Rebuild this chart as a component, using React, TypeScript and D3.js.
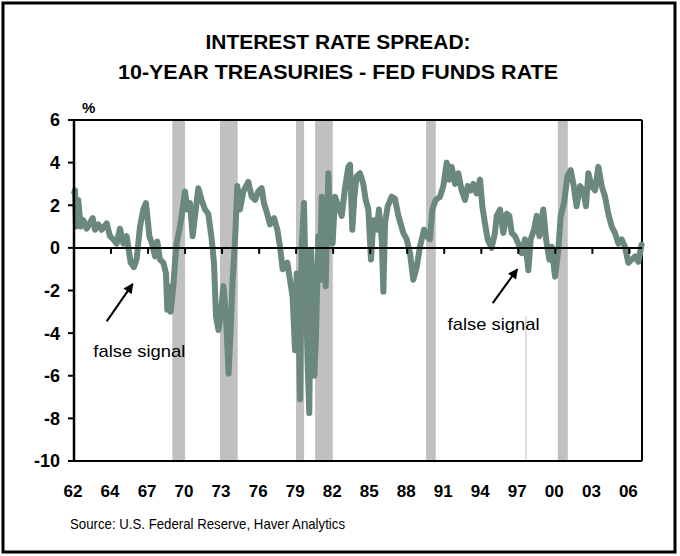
import React from "react";
import * as d3 from "d3";

// weekly spread, years as decimals
const spreadYears = [
  1962.02, 1962.08, 1962.16, 1962.34, 1962.53, 1962.74, 1963.0, 1963.48, 1963.66, 1963.93,
  1964.19, 1964.59, 1964.85, 1965.12, 1965.38, 1965.64, 1965.91, 1966.17, 1966.49, 1966.75,
  1966.97, 1967.23, 1967.49, 1967.7, 1967.81, 1967.97, 1968.18, 1968.42, 1968.6, 1968.81,
  1969.08, 1969.29, 1969.39, 1969.5, 1969.66, 1969.87, 1970.0, 1970.13, 1970.35, 1970.53,
  1970.79, 1970.98, 1971.19, 1971.4, 1971.59, 1971.85, 1972.11, 1972.38, 1972.64, 1972.91,
  1973.09, 1973.25, 1973.44, 1973.62, 1973.83, 1974.04, 1974.25, 1974.41, 1974.57, 1974.76,
  1974.94, 1975.15, 1975.42, 1975.81, 1976.08, 1976.34, 1976.6, 1976.87, 1977.05, 1977.26,
  1977.53, 1977.85, 1978.11, 1978.32, 1978.53, 1978.9, 1979.11, 1979.32, 1979.51, 1979.64,
  1979.8, 1979.91, 1980.04, 1980.22, 1980.38, 1980.51, 1980.64, 1980.78, 1980.91, 1981.04,
  1981.17, 1981.36, 1981.49, 1981.62, 1981.75, 1981.94, 1982.15, 1982.28, 1982.49, 1982.68,
  1982.94, 1983.21, 1983.47, 1983.73, 1983.87, 1984.05, 1984.21, 1984.39, 1984.66, 1984.92,
  1985.11, 1985.32, 1985.53, 1985.72, 1985.98, 1986.16, 1986.38, 1986.51, 1986.64, 1986.85,
  1987.17, 1987.43, 1987.7, 1988.09, 1988.36, 1988.62, 1988.88, 1989.15, 1989.41, 1989.73,
  1989.94, 1990.2, 1990.39, 1990.65, 1991.0, 1991.26, 1991.53, 1991.71, 1991.92, 1992.19,
  1992.45, 1992.71, 1992.98, 1993.19, 1993.45, 1993.64, 1993.9, 1994.17, 1994.35, 1994.56,
  1994.77, 1995.09, 1995.35, 1995.49, 1995.75, 1996.01, 1996.28, 1996.49, 1996.68, 1996.94,
  1997.2, 1997.47, 1997.73, 1998.0, 1998.18, 1998.44, 1998.66, 1998.87, 1999.18, 1999.4,
  1999.66, 1999.84, 2000.11, 2000.37, 2000.56, 2000.82, 2001.09, 2001.35, 2001.56, 2001.82,
  2002.09, 2002.35, 2002.56, 2002.75, 2003.01, 2003.28, 2003.54, 2003.81, 2004.07, 2004.33,
  2004.6, 2004.86, 2005.13, 2005.39, 2005.65, 2005.92, 2006.18, 2006.45, 2006.71, 2006.97,
];

const spreadValues = [
  2.6, 2.7, 1.0, 2.25, 1.0, 1.3, 0.9, 1.4, 0.85, 1.1,
  0.85, 1.15, 0.55, 0.4, 0.2, 0.9, 0.2, 0.55, -0.7, -0.9,
  -0.5, 1.0, 1.8, 2.1, 1.5, 0.55, 0.2, -0.4, 0.3, -0.55,
  -0.7, -1.2, -2.9, -1.8, -3.0, -1.8, -0.7, 0.2, 0.85, 1.5,
  2.65, 1.8, 2.1, 0.55, 1.5, 2.8, 2.25, 1.8, 1.6, 0.4,
  -0.7, -3.2, -3.85, -3.2, -1.8, -3.2, -5.9, -3.85, -1.5, 0.4,
  2.9, 1.8, 2.65, 3.1, 2.4, 2.25, 2.65, 2.8, 2.1, 1.7,
  1.1, 1.4, 0.85, 0.05, -1.0, -0.7, -1.5, -2.3, -4.8, -1.2,
  -3.5, -7.1, 0.05, 2.1, -2.3, -5.4, -7.75, -0.1, -2.3, -6.0,
  -4.15, 0.55, -1.5, 2.4, 0.4, -1.8, 3.5, 0.85, 0.2, 2.4,
  1.95, 1.5, 2.8, 3.8, 3.9, 0.85, 2.4, 3.35, 3.5, 3.0,
  2.25, 1.8, -0.55, 1.3, 0.85, 1.8, 0.4, -2.05, 1.15, 1.95,
  2.4, 2.3, 1.5, 0.7, 0.4, -0.25, -1.5, -0.9, 0.05, 0.85,
  0.55, 0.4, 1.8, 2.25, 2.4, 2.9, 4.0, 3.2, 3.8, 3.0,
  3.5, 2.7, 2.25, 2.9, 2.7, 3.0, 2.55, 3.2, 1.95, 1.15,
  0.4, 0.0, 0.7, 1.5, 1.8, 0.7, 1.6, 1.5, 0.7, 0.55,
  0.2, -0.25, 0.4, -1.05, 0.4, 0.85, 1.5, 0.55, 1.8, 0.4,
  -0.55, 0.05, -1.35, -0.1, 1.5, 2.1, 3.35, 3.65, 3.0, 1.95,
  2.9, 2.7, 1.95, 3.5, 2.9, 2.7, 3.8, 2.9, 2.4, 1.6,
  1.0, 0.7, 0.2, 0.4, 0.05, -0.7, -0.55, -0.4, -0.65, 0.15,
];

// shaded recessions
const recessionStarts = [1969.79, 1973.57, 1979.59, 1981.1, 1989.89, 2000.33];
const recessionEnds = [1970.8, 1974.97, 1980.23, 1982.5, 1990.66, 2001.12];

const yTicks = [-10, -8, -6, -4, -2, 0, 2, 4, 6];
const xTickYears = [
  1962.0, 1964.93, 1967.87, 1970.8, 1973.73, 1976.67, 1979.6, 1982.53,
  1985.47, 1988.4, 1991.33, 1994.27, 1997.2, 2000.13, 2003.07, 2006.0,
];
const xTickLabels = ["62", "64", "67", "70", "73", "76", "79", "82", "85", "88", "91", "94", "97", "00", "03", "06"];

const titleLines = ["INTEREST RATE SPREAD:", "10-YEAR TREASURIES - FED FUNDS RATE"];
const unitLabel = "%";
const sourceText = "Source: U.S. Federal Reserve, Haver Analytics";

// "false signal" notes: arrow tail, arrow tip, text start (year / value)
const noteLabels = ["false signal", "false signal"];
const noteTailYears = [1964.59, 1995.17];
const noteTailValues = [-3.45, -2.59];
const noteTipYears = [1966.65, 1997.12];
const noteTipValues = [-1.69, -1.0];
const noteTextYears = [1963.53, 1991.6];
const noteTextValues = [-5.1, -3.84];

// stray thin line left in the original chart
const strayYear = 1997.81;
const strayValues = [-3.2, -10];

const W = 680, H = 556;
const left = 74, right = 642, top = 120, bottom = 461;
const font = "'Liberation Sans', Arial, Helvetica, sans-serif";
const lineColor = "#6a8880";

export default function App() {
  const x = d3.scaleLinear().domain([1962, 2007]).range([left, right]);
  const y = d3.scaleLinear().domain([-10, 6]).range([bottom, top]);

  const points = spreadYears.map((yr, i) => [yr, spreadValues[i]] as [number, number]);
  const line = d3.line<[number, number]>()
    .x(d => x(d[0]))
    .y(d => y(d[1]));

  return (
    <svg width={W} height={H} style={{ position: "absolute", left: 0, top: 0, background: "#fff" }}>
      <defs>
        <marker id="head" viewBox="0 0 10 10" refX="9" refY="5" markerWidth="11" markerHeight="10"
          markerUnits="userSpaceOnUse" orient="auto">
          <path d="M0,0 L10,5 L0,10 Z" fill="#000" />
        </marker>
      </defs>
      <rect x={0} y={0} width={W} height={H} fill="#fff" />
      <rect x={3} y={3} width={672} height={549} fill="none" stroke="#000" strokeWidth={3} />

      {titleLines.map((t, i) => (
        <text key={t} x={338} y={49 + i * 30} textAnchor="middle" fontFamily={font} fontWeight="bold"
          fontSize={21} textLength={i === 0 ? 265 : 440} lengthAdjust="spacingAndGlyphs">{t}</text>
      ))}

      {recessionStarts.map((s, i) => (
        <rect key={"r" + i} x={x(s)} y={top} width={x(recessionEnds[i]) - x(s)} height={bottom - top} fill="#c0c0c0" />
      ))}

      <line x1={x(strayYear)} x2={x(strayYear)} y1={y(strayValues[0])} y2={y(strayValues[1])} stroke="#bdbdbd" strokeWidth={1} />

      {/* plot frame */}
      <line x1={left} x2={right} y1={top} y2={top} stroke="#000" strokeWidth={2} />
      <line x1={right} x2={right} y1={top} y2={bottom} stroke="#000" strokeWidth={2} />
      <line x1={left} x2={right} y1={bottom} y2={bottom} stroke="#000" strokeWidth={2} />

      <path d={line(points) || ""} fill="none" stroke={lineColor} strokeWidth={6} strokeLinejoin="round" strokeLinecap="round" />

      {/* zero line with ticks */}
      <line x1={left} x2={right} y1={y(0)} y2={y(0)} stroke="#000" strokeWidth={2} />
      {xTickYears.map((t, i) => (
        <line key={"xt" + i} x1={x(t)} x2={x(t)} y1={y(0)} y2={y(0) + 6} stroke="#000" strokeWidth={2} />
      ))}
      {xTickYears.map((t, i) => (
        <text key={"xl" + i} x={x(t) - 1} y={497} textAnchor="middle" fontFamily={font} fontWeight="bold" fontSize={17}>
          {xTickLabels[i]}
        </text>
      ))}

      {/* y axis */}
      <line x1={left} x2={left} y1={top} y2={bottom + 1} stroke="#000" strokeWidth={2.5} />
      {yTicks.map(t => (
        <g key={"yt" + t}>
          <line x1={left - 6} x2={left} y1={y(t)} y2={y(t)} stroke="#000" strokeWidth={2} />
          <text x={60} y={y(t)} dy="0.36em" textAnchor="end" fontFamily={font} fontWeight="bold" fontSize={18}>{t}</text>
        </g>
      ))}
      <text x={82} y={113} fontFamily={font} fontWeight="bold" fontSize={15}>{unitLabel}</text>

      {noteLabels.map((n, i) => (
        <g key={"n" + i}>
          <line x1={x(noteTailYears[i])} y1={y(noteTailValues[i])} x2={x(noteTipYears[i])} y2={y(noteTipValues[i])}
            stroke="#000" strokeWidth={2} markerEnd="url(#head)" />
          <text x={x(noteTextYears[i])} y={y(noteTextValues[i])} fontFamily={font} fontSize={17}
            textLength={92} lengthAdjust="spacingAndGlyphs">{n}</text>
        </g>
      ))}

      <text x={70} y={529} fontFamily={font} fontSize={15} textLength={275} lengthAdjust="spacingAndGlyphs">{sourceText}</text>
    </svg>
  );
}
